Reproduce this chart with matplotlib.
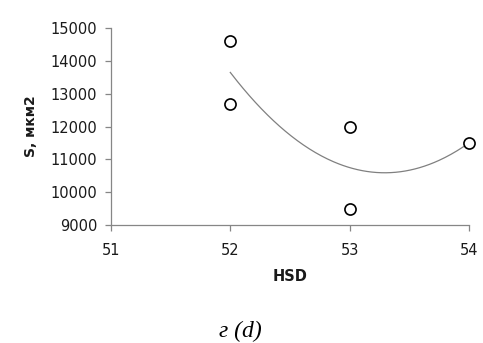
import numpy as np
import matplotlib
matplotlib.use('Agg')
import matplotlib.pyplot as plt

# HSD vs. area S (mkm2), with a 2nd-order polynomial trend line
hsd = [52, 52, 53, 53, 54]
area = [14600, 12700, 12000, 9500, 11500]

x_ticks = [51, 52, 53, 54]
y_ticks = [9000, 10000, 11000, 12000, 13000, 14000, 15000]

plt.rcParams['font.family'] = ['DejaVu Sans']

fig = plt.figure(figsize=(4.83, 3.43), dpi=100)
ax = fig.add_axes([0.2298, 0.344, 0.741, 0.574])

# quadratic trend over the measured range
coef = np.polyfit(hsd, area, 2)
xs = np.linspace(min(hsd), max(hsd), 200)
ax.plot(xs, np.polyval(coef, xs), color='#808080', lw=0.9, zorder=2)

ax.plot(hsd, area, 'o', ms=8, mfc='white', mec='black', mew=1.2,
        clip_on=False, zorder=3)

ax.set_xlim(51, 54)
ax.set_ylim(9000, 15000)
ax.set_xticks(x_ticks)
ax.set_yticks(y_ticks)

for side in ('top', 'right'):
    ax.spines[side].set_visible(False)
for side in ('left', 'bottom'):
    ax.spines[side].set_color('#868686')
    ax.spines[side].set_linewidth(0.9)

ax.tick_params(direction='out', length=4, width=0.9, color='#868686',
               labelsize=10.5, labelcolor='#1a1a1a')
ax.tick_params(axis='y', pad=6)
ax.tick_params(axis='x', pad=9)

ax.set_xlabel('HSD', fontsize=10.5, fontweight='bold', labelpad=8,
              color='#1a1a1a')
ax.set_ylabel('S, мкм2', fontsize=10, fontweight='bold', labelpad=9,
              color='#1a1a1a')

fig.text(0.497, 0.003, 'г (d)', ha='center', va='bottom', fontsize=17,
         style='italic', family='Liberation Serif')

fig.savefig('out.png', dpi=100)
